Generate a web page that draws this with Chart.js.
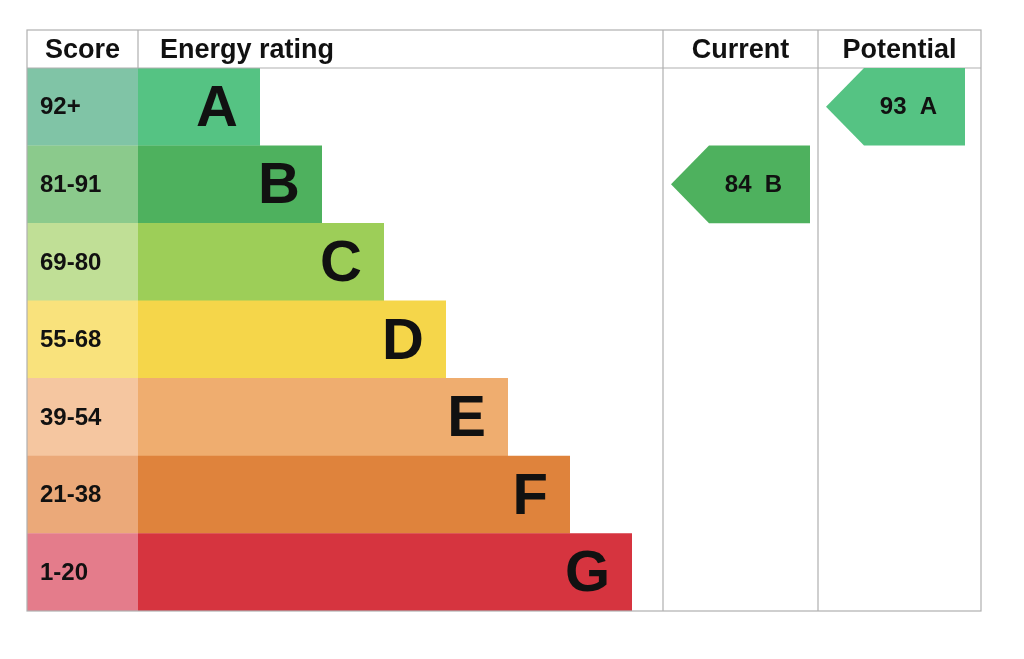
<!DOCTYPE html>
<html>
<head>
<meta charset="utf-8">
<script src="https://cdn.jsdelivr.net/npm/chart.js@4"></script>
<style>
  html, body { margin: 0; padding: 0; background: #fff; }
  #wrap { width: 1024px; height: 659px; }
</style>
</head>
<body>
<div id="wrap"><canvas id="epc" width="1024" height="659"></canvas></div>
<script>
// data
const bands = ["A", "B", "C", "D", "E", "F", "G"];
const scoreRanges = ["92+", "81-91", "69-80", "55-68", "39-54", "21-38", "1-20"];
const barLengths = [122, 184, 246, 308, 370, 432, 494];
const barColors = ["#55c383", "#4eb15e", "#9dce58", "#f5d64a", "#efad6f", "#df833c", "#d6343f"];
const scoreColors = ["#80c4a6", "#8bca8c", "#c0df96", "#f9e27c", "#f5c6a0", "#eba979", "#e47c8b"];
const currentScore = 84, currentBand = "B";
const potentialScore = 93, potentialBand = "A";

const SCORE_W = 111;   // width of score column, x units
const FULL_W = 954;    // total table width, x units
const CUR_X = 636, POT_X = 791; // column left edges, x units

const font = (s) => `bold ${s}px "Liberation Sans", Arial, sans-serif`;

const tablePlugin = {
  id: "epcTable",
  afterDraw(chart) {
    const { ctx, chartArea: a, scales: { x, y } } = chart;
    const px = (v) => x.getPixelForValue(v);
    const top = a.top - 38;
    ctx.save();
    // borders
    ctx.strokeStyle = "#b0b0b0";
    ctx.lineWidth = 1.2;
    ctx.strokeRect(a.left, top, a.right - a.left, a.bottom - top);
    ctx.beginPath();
    ctx.moveTo(a.left, a.top); ctx.lineTo(a.right, a.top);
    ctx.moveTo(px(SCORE_W), top); ctx.lineTo(px(SCORE_W), a.top);
    ctx.moveTo(px(CUR_X), top); ctx.lineTo(px(CUR_X), a.bottom);
    ctx.moveTo(px(POT_X), top); ctx.lineTo(px(POT_X), a.bottom);
    ctx.stroke();

    // headers
    ctx.fillStyle = "#111";
    ctx.font = font(27);
    ctx.textBaseline = "middle";
    const hy = top + 21;
    ctx.textAlign = "center";
    ctx.fillText("Score", px(SCORE_W / 2), hy);
    ctx.textAlign = "left";
    ctx.fillText("Energy rating", px(SCORE_W) + 22, hy);
    ctx.textAlign = "center";
    ctx.fillText("Current", px((CUR_X + POT_X) / 2), hy);
    ctx.fillText("Potential", px((POT_X + FULL_W) / 2), hy);

    // row labels
    bands.forEach((b, i) => {
      const cy = y.getPixelForValue(i);
      ctx.font = font(24);
      ctx.textAlign = "left";
      ctx.fillText(scoreRanges[i], a.left + 13, cy + 1);
      ctx.font = font(58);
      ctx.textAlign = "right";
      ctx.fillText(b, px(SCORE_W + barLengths[i]) - 22, cy + 3);
    });

    // arrows
    const band = y.getPixelForValue(1) - y.getPixelForValue(0);
    const arrow = (colLeft, score, letter) => {
      const i = bands.indexOf(letter);
      const cy = y.getPixelForValue(i);
      const x0 = px(colLeft) + 8, x2 = px(colLeft) + 147, x1 = x0 + 38;
      const h = band / 2;
      ctx.fillStyle = barColors[i];
      ctx.beginPath();
      ctx.moveTo(x0, cy);
      ctx.lineTo(x1, cy - h);
      ctx.lineTo(x2, cy - h);
      ctx.lineTo(x2, cy + h);
      ctx.lineTo(x1, cy + h);
      ctx.closePath();
      ctx.fill();
      ctx.fillStyle = "#111";
      ctx.font = font(24);
      ctx.textAlign = "center";
      ctx.fillText(score + "  " + letter, (x1 + x2) / 2 - 6, cy + 1);
    };
    arrow(CUR_X, currentScore, currentBand);
    arrow(POT_X, potentialScore, potentialBand);
    ctx.restore();
  }
};

new Chart(document.getElementById("epc"), {
  type: "bar",
  data: {
    labels: bands,
    datasets: [
      {
        data: bands.map(() => [0, SCORE_W]),
        backgroundColor: scoreColors,
        grouped: false,
        categoryPercentage: 1,
        barPercentage: 1.005
      },
      {
        data: barLengths.map((l) => [SCORE_W, SCORE_W + l]),
        backgroundColor: barColors,
        grouped: false,
        categoryPercentage: 1,
        barPercentage: 1.005
      }
    ]
  },
  options: {
    indexAxis: "y",
    responsive: false,
    animation: false,
    layout: { padding: { left: 27, right: 43, top: 68, bottom: 48 } },
    plugins: { legend: { display: false }, tooltip: { enabled: false } },
    scales: {
      x: { display: false, min: 0, max: FULL_W },
      y: { display: false }
    }
  },
  plugins: [tablePlugin]
});
</script>
</body>
</html>
